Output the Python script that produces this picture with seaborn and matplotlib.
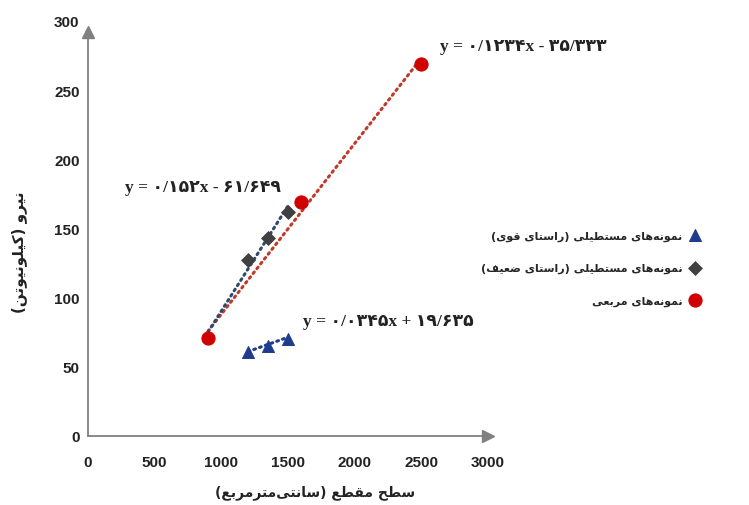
import numpy as np
import pandas as pd
import seaborn as sns
import matplotlib
matplotlib.use("Agg")
import matplotlib.pyplot as plt

# data
square_x = [900, 1600, 2500]
square_y = [71, 169, 269]
weak_x = [1200, 1350, 1500]
weak_y = [127, 143, 162]
strong_x = [1200, 1350, 1500]
strong_y = [61, 65, 70]

# trend lines (slope, intercept, x start, x end)
fit_square = (0.1234, -35.333, 900, 2500)
fit_weak = (0.152, -61.649, 900, 1500)
fit_strong = (0.0345, 19.635, 1200, 1500)

eq_square = "y = ۰/۱۲۳۴x - ۳۵/۳۳۳"
eq_weak = "y = ۰/۱۵۲x - ۶۱/۶۴۹"
eq_strong = "y = ۰/۰۳۴۵x + ۱۹/۶۳۵"

lbl_strong = "نمونه‌های مستطیلی (راستای قوی)"
lbl_weak = "نمونه‌های مستطیلی (راستای ضعیف)"
lbl_square = "نمونه‌های مربعی"
xlab = "سطح مقطع (سانتی‌مترمربع)"
ylab = "نیرو (کیلونیوتن)"

xticks = [0, 500, 1000, 1500, 2000, 2500, 3000]
yticks = [0, 50, 100, 150, 200, 250, 300]

# simple arabic/persian shaping, matplotlib has no RTL layout
FORMS = {
    "ا": (0xFE8D, 0xFE8E, None, None),
    "ب": (0xFE8F, 0xFE90, 0xFE91, 0xFE92),
    "ت": (0xFE95, 0xFE96, 0xFE97, 0xFE98),
    "ح": (0xFEA1, 0xFEA2, 0xFEA3, 0xFEA4),
    "ر": (0xFEAD, 0xFEAE, None, None),
    "س": (0xFEB1, 0xFEB2, 0xFEB3, 0xFEB4),
    "ض": (0xFEBD, 0xFEBE, 0xFEBF, 0xFEC0),
    "ط": (0xFEC1, 0xFEC2, 0xFEC3, 0xFEC4),
    "ع": (0xFEC9, 0xFECA, 0xFECB, 0xFECC),
    "ف": (0xFED1, 0xFED2, 0xFED3, 0xFED4),
    "ق": (0xFED5, 0xFED6, 0xFED7, 0xFED8),
    "ل": (0xFEDD, 0xFEDE, 0xFEDF, 0xFEE0),
    "م": (0xFEE1, 0xFEE2, 0xFEE3, 0xFEE4),
    "ن": (0xFEE5, 0xFEE6, 0xFEE7, 0xFEE8),
    "ه": (0xFEE9, 0xFEEA, 0xFEEB, 0xFEEC),
    "و": (0xFEED, 0xFEEE, None, None),
    "ی": (0xFBFC, 0xFBFD, 0xFBFE, 0xFBFF),
    "ک": (0xFB8E, 0xFB8F, 0xFB90, 0xFB91),
}


def fa(s):
    out = []
    for i, c in enumerate(s):
        if c not in FORMS:
            if c != "\u200c":
                out.append(c)
            continue
        prev = s[i - 1] if i > 0 else None
        nxt = s[i + 1] if i + 1 < len(s) else None
        jp = prev in FORMS and FORMS[prev][2] is not None
        jn = nxt in FORMS and FORMS[c][2] is not None
        iso, fin, ini, med = FORMS[c]
        if jp and jn:
            g = med
        elif jp:
            g = fin
        elif jn:
            g = ini
        else:
            g = iso
        out.append(chr(g))
    vis = "".join(reversed(out))
    return vis.translate(str.maketrans("()", ")("))


sns.set_theme(style="white")
plt.rcParams["font.family"] = ["Liberation Sans", "DejaVu Sans"]

fig = plt.figure(figsize=(7.49, 5.06), dpi=100)
ax = fig.add_axes([88 / 749, 69 / 506, 400 / 749, 415 / 506])

red = "#D00000"
gray = "#404040"
navy = "#1F3C8C"

for (m, b, x0, x1), col in [(fit_square, "#C0392B"), (fit_weak, "#2E4A6B"), (fit_strong, "#1F3C8C")]:
    xs = np.array([x0, x1])
    ax.plot(xs, m * xs + b, color=col, lw=2.2, ls=(0, (0.6, 1.4)), dash_capstyle="round", zorder=2)

sns.scatterplot(x=strong_x, y=strong_y, ax=ax, marker="^", s=75, color=navy,
                edgecolor=navy, label=fa(lbl_strong), zorder=3)
sns.scatterplot(x=weak_x, y=weak_y, ax=ax, marker="D", s=50, color=gray,
                edgecolor=gray, label=fa(lbl_weak), zorder=3)
sns.scatterplot(x=square_x, y=square_y, ax=ax, marker="o", s=90, color=red,
                edgecolor=red, label=fa(lbl_square), zorder=4)

ax.set_xlim(0, 3000)
ax.set_ylim(0, 300)
ax.set_xticks(xticks)
ax.set_yticks(yticks)
ax.tick_params(axis="x", length=0, pad=14, labelsize=11, labelcolor="#222222")
ax.tick_params(axis="y", length=0, pad=6, labelsize=11, labelcolor="#222222")
for t in ax.get_xticklabels() + ax.get_yticklabels():
    t.set_fontweight("bold")
for sp in ["top", "right"]:
    ax.spines[sp].set_visible(False)
for sp in ["left", "bottom"]:
    ax.spines[sp].set_color("#808080")
    ax.spines[sp].set_linewidth(1.3)
ax.spines["left"].set_bounds(0, 292)
ax.plot(3000, 0, ">", color="#808080", ms=8, clip_on=False)
ax.plot(0, 292, "^", color="#808080", ms=8, clip_on=False)

eq_font = dict(family=["Liberation Serif", "DejaVu Sans"], fontweight="bold", fontsize=12.5, color="#222222")
ax.text(2640, 282, eq_square, ha="left", va="center", **eq_font)
ax.text(277, 180, eq_weak, ha="left", va="center", **eq_font)
ax.text(1612, 83, eq_strong, ha="left", va="center", **eq_font)

leg = ax.legend(loc="center right", bbox_to_anchor=(711 / 749, 1 - 269 / 506),
                bbox_transform=fig.transFigure, frameon=False, markerfirst=False,
                labelspacing=2.0, handletextpad=0.15, borderaxespad=0,
                prop=dict(family="DejaVu Sans", weight="bold", size=8))

fig.text(315 / 749, 1 - 493 / 506, fa(xlab), ha="center", va="center",
         family="DejaVu Sans", fontweight="bold", fontsize=10, color="#222222")
fig.text(19 / 749, 1 - 252 / 506, fa(ylab), ha="center", va="center", rotation=90,
         family="DejaVu Sans", fontweight="bold", fontsize=11, color="#222222")

fig.savefig("out.png", dpi=100)
